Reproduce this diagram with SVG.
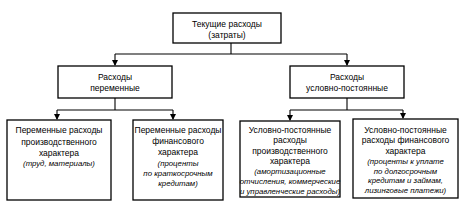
<svg xmlns="http://www.w3.org/2000/svg" width="464" height="208" viewBox="0 0 464 208">
<defs>
<marker id="ah" markerWidth="6" markerHeight="6" refX="5" refY="3" orient="auto" markerUnits="userSpaceOnUse">
<path d="M0,0 L6,3 L0,6 Z" fill="#000"/>
</marker>
<style>
.box{fill:#fff;stroke:#000;stroke-width:1.3}
.t{font-family:"Liberation Sans",Arial,sans-serif;font-size:8.5px;fill:#000;text-anchor:middle}
.i{font-family:"Liberation Sans",Arial,sans-serif;font-size:7.8px;font-style:italic;fill:#000;text-anchor:middle}
.c{fill:none;stroke:#000;stroke-width:1.1}
</style>
</defs>
<rect width="464" height="208" fill="#fff"/>
<g id="connectors">
<path class="c" d="M231,43 V54 M115,54 H347"/>
<path class="c" d="M115,54 V65" marker-end="url(#ah)"/>
<path class="c" d="M347,54 V65" marker-end="url(#ah)"/>
<path class="c" d="M115,98 V110 M57,110 H173"/>
<path class="c" d="M57,110 V119" marker-end="url(#ah)"/>
<path class="c" d="M173,110 V119" marker-end="url(#ah)"/>
<path class="c" d="M347,98 V110 M290,110 H403"/>
<path class="c" d="M290,110 V120" marker-end="url(#ah)"/>
<path class="c" d="M403,110 V118" marker-end="url(#ah)"/>
</g>
<g id="top">
<rect class="box" x="173" y="13" width="108" height="30"/>
<text class="t" x="227" y="27">Текущие расходы</text>
<text class="t" x="227" y="38">(затраты)</text>
</g>
<g id="var">
<rect class="box" x="58" y="66" width="114" height="32"/>
<text class="t" x="115" y="80">Расходы</text>
<text class="t" x="115" y="91">переменные</text>
</g>
<g id="fixed">
<rect class="box" x="290" y="66" width="114" height="32"/>
<text class="t" x="347" y="80">Расходы</text>
<text class="t" x="347" y="91">условно-постоянные</text>
</g>
<g id="b1">
<rect class="box" x="7" y="120" width="104" height="80"/>
<text class="t" x="59" y="133">Переменные расходы</text>
<text class="t" x="59" y="144.5">производственного</text>
<text class="t" x="59" y="155.5">характера</text>
<text class="i" x="59" y="166">(труд, материалы)</text>
</g>
<g id="b2">
<rect class="box" x="133" y="120" width="90" height="80"/>
<text class="t" x="178" y="133">Переменные расходы</text>
<text class="t" x="178" y="144">финансового</text>
<text class="t" x="178" y="155">характера</text>
<text class="i" x="178" y="165.5">(проценты</text>
<text class="i" x="178" y="175.5">по краткосрочным</text>
<text class="i" x="178" y="185.5">кредитам)</text>
</g>
<g id="b3">
<rect class="box" x="240" y="121" width="100" height="76"/>
<text class="t" x="290" y="132.5">Условно-постоянные</text>
<text class="t" x="290" y="143">расходы</text>
<text class="t" x="290" y="153.5">производственного</text>
<text class="t" x="290" y="164">характера</text>
<text class="i" x="290" y="174">(амортизационные</text>
<text class="i" x="290" y="184">отчисления, коммерческие</text>
<text class="i" x="290" y="193.5">и управленческие расходы)</text>
</g>
<g id="b4">
<rect class="box" x="353" y="119" width="105" height="79"/>
<text class="t" x="405.5" y="132.5">Условно-постоянные</text>
<text class="t" x="405.5" y="143">расходы финансового</text>
<text class="t" x="405.5" y="153.5">характера</text>
<text class="i" x="405.5" y="163.5">(проценты к уплате</text>
<text class="i" x="405.5" y="173.5">по долгосрочным</text>
<text class="i" x="405.5" y="183">кредитам и займам,</text>
<text class="i" x="405.5" y="192.5">лизинговые платежи)</text>
</g>
</svg>
